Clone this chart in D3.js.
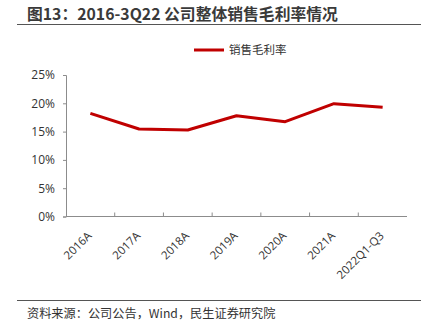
<!DOCTYPE html>
<html>
<head>
<meta charset="utf-8">
<script src="https://cdn.jsdelivr.net/npm/d3@7"></script>
<style>
  html, body { margin: 0; padding: 0; background: #fff; }
  svg { display: block; font-family: "Noto Sans CJK SC", "Noto Sans", sans-serif; }
</style>
</head>
<body>
<svg id="chart" width="430" height="333"></svg>
<script>
// 销售毛利率 by period
const categories = ["2016A", "2017A", "2018A", "2019A", "2020A", "2021A", "2022Q1-Q3"];
const grossMargin = [0.1823, 0.1546, 0.1528, 0.178, 0.1675, 0.1993, 0.1929];
const yTicks = [0, 0.05, 0.10, 0.15, 0.20, 0.25];
const titleText = "图13：2016-3Q22 公司整体销售毛利率情况";
const legendText = "销售毛利率";
const sourceText = "资料来源：公司公告，Wind，民生证券研究院";

const svg = d3.select("#chart");
const red = "#C00000";
const axisColor = "#8c8c8c";
const textColor = "#333";

const plotLeft = 66, plotRight = 407, plotTop = 75, plotBottom = 216.5;

const x = d3.scaleBand().domain(categories).range([plotLeft, plotRight]).paddingInner(0).paddingOuter(0);
const y = d3.scaleLinear().domain([0, 0.25]).range([plotBottom, plotTop]);

// Title and rule
svg.append("text")
  .attr("x", 27).attr("y", 19.5)
  .attr("font-size", 15.8).attr("font-weight", "bold")
  .attr("fill", "#3a3a3a")
  .text(titleText);
svg.append("line")
  .attr("x1", 17).attr("x2", 421).attr("y1", 24.5).attr("y2", 24.5)
  .attr("stroke", "#555").attr("stroke-width", 1.2);

// Legend
svg.append("line")
  .attr("x1", 194).attr("x2", 224).attr("y1", 50).attr("y2", 50)
  .attr("stroke", red).attr("stroke-width", 3);
svg.append("text")
  .attr("x", 229).attr("y", 54)
  .attr("font-size", 11.5).attr("fill", textColor)
  .text(legendText);

// Y axis
const yAxis = d3.axisLeft(y).tickValues(yTicks).tickFormat(d3.format(".0%")).tickSize(3).tickPadding(8);
const gy = svg.append("g").attr("transform", `translate(${plotLeft},0)`).call(yAxis);
gy.select(".domain").attr("stroke", axisColor);
gy.selectAll(".tick line").attr("stroke", axisColor);
gy.selectAll(".tick text").attr("font-size", 12).attr("fill", textColor)
  .attr("font-family", "'Open Sans', 'Noto Sans', sans-serif");

// X axis: tick marks at category boundaries, pointing into the plot
const gx = svg.append("g").attr("transform", `translate(0,${plotBottom})`);
gx.append("line")
  .attr("x1", x.range()[0]).attr("x2", x.range()[1])
  .attr("stroke", axisColor);
gx.selectAll("line.bound")
  .data(categories.slice(1))
  .join("line")
  .attr("class", "bound")
  .attr("x1", d => x(d)).attr("x2", d => x(d))
  .attr("y1", -4).attr("y2", 0)
  .attr("stroke", axisColor);
gx.selectAll("text")
  .data(categories)
  .join("text")
  .attr("transform", d => `translate(${x(d) + x.bandwidth() / 2 + 2},${20}) rotate(-45)`)
  .attr("text-anchor", "end")
  .attr("font-size", 11.5)
  .attr("fill", textColor)
  .attr("font-family", "'Open Sans', 'Noto Sans', sans-serif")
  .text(d => d);

// Series line
const line = d3.line()
  .x((d, i) => x(categories[i]) + x.bandwidth() / 2)
  .y(d => y(d));
svg.append("path")
  .datum(grossMargin)
  .attr("d", line)
  .attr("fill", "none")
  .attr("stroke", red)
  .attr("stroke-width", 3)
  .attr("stroke-linejoin", "round");

// Footer rule and source
svg.append("line")
  .attr("x1", 17).attr("x2", 421).attr("y1", 300.5).attr("y2", 300.5)
  .attr("stroke", "#555").attr("stroke-width", 1.2);
svg.append("text")
  .attr("x", 27).attr("y", 318)
  .attr("font-size", 12.2).attr("fill", textColor)
  .text(sourceText);
</script>
</body>
</html>
